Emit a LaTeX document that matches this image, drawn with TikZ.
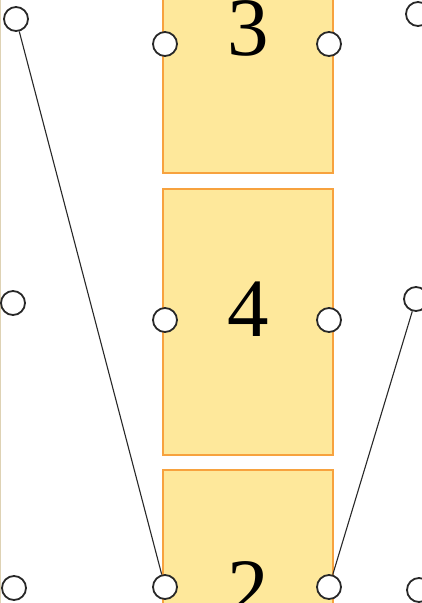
\documentclass[tikz,border=0pt]{standalone}
\usepackage{fontspec}
\setmainfont{Liberation Serif}
\definecolor{boxfill}{RGB}{254,232,155}
\definecolor{boxline}{RGB}{247,162,62}
\definecolor{portline}{RGB}{40,40,40}
\definecolor{edgetan}{RGB}{222,210,180}
\tikzset{
  blockbox/.style={draw=boxline, fill=boxfill, line width=1.8pt, rectangle, inner sep=0pt, minimum width=170pt},
  port/.style={circle, draw=portline, fill=white, line width=1.8pt, minimum size=24pt, inner sep=0pt},
  biglabel/.style={anchor=base, inner sep=0pt, font=\fontsize{83}{83}\selectfont, text=black},
  wire/.style={draw=portline, line width=1.1pt}
}
\begin{document}
\begin{tikzpicture}[x=1pt,y=-1pt]
\useasboundingbox (0,0) rectangle (422,603);
\clip (0,0) rectangle (422,603);
\fill[white] (0,0) rectangle (422,603);
% faint edge of a neighbouring shape
\draw[edgetan, line width=1.2pt] (0.6,0) -- (0.6,603);
% blocks
\node[blockbox, minimum height=273pt] (b3) at (248,36.5) {};
\node[blockbox, minimum height=266pt] (b4) at (248,322) {};
\node[blockbox, minimum height=266pt] (b2) at (248,603) {};
\node[biglabel] (t3) at (248,55) {3};
\node[biglabel] (t4) at (248,336) {4};
\node[biglabel] (t2) at (248,616) {2};
% ports on blocks
\node[port] (b3l) at (165,44) {};
\node[port] (b3r) at (329,44) {};
\node[port] (b4l) at (165,320) {};
\node[port] (b4r) at (329,320) {};
\node[port] (b2l) at (165,587) {};
\node[port] (b2r) at (329,587) {};
% outer ports
\node[port] (l1) at (16,19) {};
\node[port] (l2) at (13,303) {};
\node[port] (l3) at (14,588) {};
\node[port] (r1) at (418,14) {};
\node[port] (r2) at (416,299) {};
\node[port] (r3) at (419,590) {};
% wires
\draw[wire] (l1) -- (b2l);
\draw[wire] (r2) -- (b2r);
\end{tikzpicture}
\end{document}
